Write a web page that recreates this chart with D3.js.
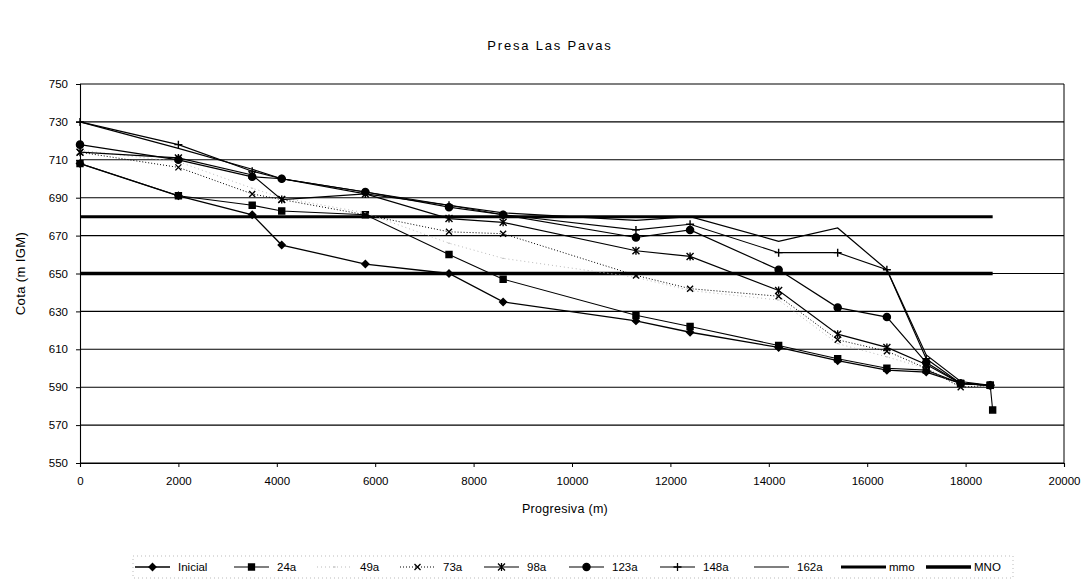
<!DOCTYPE html>
<html>
<head>
<meta charset="utf-8">
<script src="https://cdn.jsdelivr.net/npm/d3@7"></script>
<style>
  body { margin: 0; background: #fff; }
  text { font-family: "Liberation Sans", Arial, sans-serif; fill: #000; }
</style>
</head>
<body>
<div class="chart"></div>
<script>
// Presa Las Pavas - perfil longitudinal de sedimentos

/* datos */
var progresiva    = [0, 2000, 3500, 4100, 5800, 7500, 8600, 11300, 12400, 14200, 15400, 16400, 17200, 17900, 18500];
var progresiva24a = [0, 2000, 3500, 4100, 5800, 7500, 8600, 11300, 12400, 14200, 15400, 16400, 17200, 17900, 18500, 18550];

var inicial = [708, 691, 681, 665, 655, 650, 635, 625, 619, 611, 604, 599, 598, 592, 591];
var a24     = [708, 691, 686, 683, 681, 660, 647, 628, 622, 612, 605, 600, 599, 592, 591, 578];
var a49     = [715, 709, 695, 690, 682, 666, 658, 648, 641, 636, 613, 606, 600, 590, 591];
var a73     = [714, 706, 692, 689, 681, 672, 671, 649, 642, 638, 615, 609, 600, 590, 591];
var a98     = [714, 711, 702, 689, 692, 679, 677, 662, 659, 641, 618, 611, 602, 592, 591];
var a123    = [718, 710, 701, 700, 693, 685, 681, 669, 673, 652, 632, 627, 603, 592, 591];
var a148    = [730, 718, 704, 700, 693, 686, 681, 673, 676, 661, 661, 652, 605, 592, 591];
var a162    = [730, 716, 705, 700, 692, 686, 682, 678, 680, 667, 674, 652, 607, 593, 591];

var mmo = 680, MNO = 650;
var tramoNiveles = [0, 18550];

var xTicks = [0, 2000, 4000, 6000, 8000, 10000, 12000, 14000, 16000, 18000, 20000];
var yTicks = [550, 570, 590, 610, 630, 650, 670, 690, 710, 730, 750];

var width = 1090, height = 587;
var plot = {left: 80, right: 1064, top: 84, bottom: 463};

var x = d3.scaleLinear().domain([0, 20000]).range([plot.left, plot.right]);
var y = d3.scaleLinear().domain([550, 750]).range([plot.bottom, plot.top]);

var series = [
  {name: "Inicial", xs: progresiva,    ys: inicial, marker: "diamond",  dash: null,  color: "#000", w: 1.3},
  {name: "24a",     xs: progresiva24a, ys: a24,     marker: "square",   dash: null,  color: "#000", w: 1.1},
  {name: "49a",     xs: progresiva,    ys: a49,     marker: "dot",      dash: "1,3", color: "#bbb", w: 1},
  {name: "73a",     xs: progresiva,    ys: a73,     marker: "x",        dash: "1,2", color: "#000", w: 1},
  {name: "98a",     xs: progresiva,    ys: a98,     marker: "asterisk", dash: null,  color: "#000", w: 1.2},
  {name: "123a",    xs: progresiva,    ys: a123,    marker: "circle",   dash: null,  color: "#000", w: 1.2},
  {name: "148a",    xs: progresiva,    ys: a148,    marker: "plus",     dash: null,  color: "#000", w: 1.1},
  {name: "162a",    xs: progresiva,    ys: a162,    marker: null,       dash: null,  color: "#000", w: 1.2}
];

function markerPath(type) {
  var s = 3.5;
  switch (type) {
    case "diamond":  return "M0," + (-s) + "L" + s + ",0L0," + s + "L" + (-s) + ",0Z";
    case "square":   return "M-3,-3H3V3H-3Z";
    case "circle":   return d3.symbol().type(d3.symbolCircle).size(40)();
    case "x":        return "M-3,-3L3,3M-3,3L3,-3";
    case "asterisk": return "M-3.5,-3.5L3.5,3.5M-3.5,3.5L3.5,-3.5M0,-4V4";
    case "plus":     return "M-4,0H4M0,-4V4";
    case "dot":      return "M-1,0H1";
  }
  return null;
}
var filled = {diamond: true, square: true, circle: true};

var svg = d3.select(".chart").append("svg")
    .attr("width", width)
    .attr("height", height);

/* titulo */
svg.append("text")
    .attr("x", 550).attr("y", 50)
    .attr("text-anchor", "middle")
    .style("font-size", "13px")
    .style("letter-spacing", "1.8px")
    .text("Presa Las Pavas");

/* grid */
svg.append("g").selectAll("line")
    .data(yTicks)
    .enter().append("line")
    .attr("x1", plot.left).attr("x2", plot.right)
    .attr("y1", function(d) { return y(d); })
    .attr("y2", function(d) { return y(d); })
    .attr("stroke", "#000").attr("stroke-width", 1.1);

svg.append("line")
    .attr("x1", plot.right).attr("x2", plot.right)
    .attr("y1", plot.top).attr("y2", plot.bottom)
    .attr("stroke", "#000").attr("stroke-width", 1);

/* ejes */
var gx = svg.append("g")
    .attr("transform", "translate(0," + plot.bottom + ")")
    .call(d3.axisBottom(x).tickValues(xTicks).tickSize(4).tickPadding(10).tickFormat(d3.format("d")));
var gy = svg.append("g")
    .attr("transform", "translate(" + plot.left + ",0)")
    .call(d3.axisLeft(y).tickValues(yTicks).tickSize(4).tickPadding(8));
[gx, gy].forEach(function(g) {
  g.select(".domain").attr("stroke", "#000").attr("stroke-width", 1.1);
  g.selectAll(".tick line").attr("stroke", "#000");
  g.selectAll(".tick text").style("font-size", "11.5px").style("font-family", "'Liberation Sans', Arial, sans-serif");
});

svg.append("text")
    .attr("x", 565).attr("y", 513)
    .attr("text-anchor", "middle")
    .style("font-size", "12.5px")
    .style("letter-spacing", "0.3px")
    .text("Progresiva (m)");

svg.append("text")
    .attr("transform", "translate(25," + ((plot.top + plot.bottom) / 2) + ") rotate(-90)")
    .attr("text-anchor", "middle")
    .style("font-size", "13px")
    .style("letter-spacing", "0.4px")
    .text("Cota (m IGM)");

/* niveles mmo / MNO */
[mmo, MNO].forEach(function(v, i) {
  svg.append("path")
      .datum(tramoNiveles)
      .attr("fill", "none")
      .attr("stroke", "#000")
      .attr("stroke-width", i === 0 ? 3 : 3.5)
      .attr("d", d3.line().x(function(d) { return x(d); }).y(function() { return y(v); }));
});

/* series */
series.forEach(function(s) {
  var pts = s.xs.map(function(d, i) { return {x: d, y: s.ys[i]}; });
  svg.append("path")
      .datum(pts)
      .attr("fill", "none")
      .attr("stroke", s.color)
      .attr("stroke-width", s.w)
      .attr("stroke-dasharray", s.dash)
      .attr("d", d3.line().x(function(d) { return x(d.x); }).y(function(d) { return y(d.y); }));
  if (s.marker) {
    svg.append("g").selectAll("path")
        .data(pts)
        .enter().append("path")
        .attr("transform", function(d) { return "translate(" + x(d.x) + "," + y(d.y) + ")"; })
        .attr("d", markerPath(s.marker))
        .attr("fill", filled[s.marker] ? s.color : "none")
        .attr("stroke", s.color)
        .attr("stroke-width", s.marker === "dot" ? 1 : 1.4);
  }
});

/* leyenda */
var legendItems = series.map(function(s) { return {name: s.name, marker: s.marker, dash: s.dash, color: s.color, w: s.w}; })
    .concat([{name: "mmo", marker: null, dash: null, color: "#000", w: 3},
             {name: "MNO", marker: null, dash: null, color: "#000", w: 3.5}]);
var legendTextX = [178, 277, 360, 443, 527, 612, 703, 797, 889, 974];

var legY = 567;
var legend = svg.append("g");
legend.append("rect")
    .attr("x", 133).attr("y", legY - 11).attr("width", 880).attr("height", 22)
    .attr("fill", "none").attr("stroke", "#bbb").attr("stroke-dasharray", "1,3");

legendItems.forEach(function(it, i) {
  var tx = legendTextX[i];
  var big = (it.name === "mmo" || it.name === "MNO");
  var x0 = big ? tx - 48 : tx - 43, x1 = big ? tx - 3 : tx - 8;
  var g = legend.append("g").attr("transform", "translate(0," + legY + ")");
  g.append("line").attr("x1", x0).attr("x2", x1)
      .attr("stroke", it.color).attr("stroke-width", it.w).attr("stroke-dasharray", it.dash);
  if (it.marker) {
    g.append("path").attr("transform", "translate(" + (x0 + x1) / 2 + ",0)")
        .attr("d", markerPath(it.marker))
        .attr("fill", filled[it.marker] ? it.color : "none")
        .attr("stroke", it.color).attr("stroke-width", 1.3);
  }
  g.append("text").attr("x", tx).attr("dy", "0.35em")
      .style("font-size", "11.5px").text(it.name);
});
</script>
</body>
</html>
